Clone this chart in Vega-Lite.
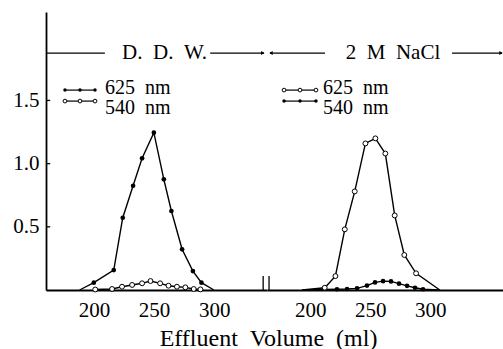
{
  "$schema": "https://vega.github.io/schema/vega-lite/v6.json",
  "autosize": {"type": "pad"},
  "padding": {"left": 12, "top": 12, "right": 0, "bottom": 0},
  "background": "white",
  "spacing": 0,
  "bounds": "flush",
  "config": {
    "view": {"stroke": null},
    "font": "Liberation Serif",
    "axis": {
      "grid": false,
      "domainColor": "black",
      "domainWidth": 1.8,
      "tickColor": "black",
      "labelColor": "black",
      "titleColor": "black",
      "labelFont": "Liberation Serif",
      "titleFont": "Liberation Serif",
      "labelFontSize": 21,
      "titleFontSize": 24,
      "titleFontWeight": "normal"
    },
    "text": {"font": "Liberation Serif", "fontSize": 21, "color": "black"}
  },
  "datasets": {
    "one": [{}],
    "curves": [
      {"cond": "DDW", "wl": "625 nm", "vol": 188, "abs": 0},
      {"cond": "DDW", "wl": "625 nm", "vol": 199.8, "abs": 0.058},
      {"cond": "DDW", "wl": "625 nm", "vol": 216.4, "abs": 0.158},
      {"cond": "DDW", "wl": "625 nm", "vol": 223.9, "abs": 0.572},
      {"cond": "DDW", "wl": "625 nm", "vol": 232.5, "abs": 0.825},
      {"cond": "DDW", "wl": "625 nm", "vol": 240, "abs": 1.042},
      {"cond": "DDW", "wl": "625 nm", "vol": 249.8, "abs": 1.245},
      {"cond": "DDW", "wl": "625 nm", "vol": 258.1, "abs": 0.876},
      {"cond": "DDW", "wl": "625 nm", "vol": 264.4, "abs": 0.625},
      {"cond": "DDW", "wl": "625 nm", "vol": 273.3, "abs": 0.322},
      {"cond": "DDW", "wl": "625 nm", "vol": 282.3, "abs": 0.15},
      {"cond": "DDW", "wl": "625 nm", "vol": 289.4, "abs": 0.058},
      {"cond": "DDW", "wl": "625 nm", "vol": 299.8, "abs": 0},
      {"cond": "DDW", "wl": "540 nm", "vol": 201, "abs": 0.004},
      {"cond": "DDW", "wl": "540 nm", "vol": 215, "abs": 0.008},
      {"cond": "DDW", "wl": "540 nm", "vol": 223.3, "abs": 0.026},
      {"cond": "DDW", "wl": "540 nm", "vol": 231.7, "abs": 0.04},
      {"cond": "DDW", "wl": "540 nm", "vol": 240, "abs": 0.053},
      {"cond": "DDW", "wl": "540 nm", "vol": 247, "abs": 0.071},
      {"cond": "DDW", "wl": "540 nm", "vol": 255, "abs": 0.053},
      {"cond": "DDW", "wl": "540 nm", "vol": 262, "abs": 0.034},
      {"cond": "DDW", "wl": "540 nm", "vol": 269, "abs": 0.026},
      {"cond": "DDW", "wl": "540 nm", "vol": 276, "abs": 0.021},
      {"cond": "DDW", "wl": "540 nm", "vol": 283, "abs": 0.008},
      {"cond": "DDW", "wl": "540 nm", "vol": 288.6, "abs": 0.005},
      {"cond": "NaCl", "wl": "625 nm", "vol": 193.2, "abs": 0},
      {"cond": "NaCl", "wl": "625 nm", "vol": 212.1, "abs": 0.018},
      {"cond": "NaCl", "wl": "625 nm", "vol": 221, "abs": 0.11},
      {"cond": "NaCl", "wl": "625 nm", "vol": 228.8, "abs": 0.48},
      {"cond": "NaCl", "wl": "625 nm", "vol": 237.1, "abs": 0.78},
      {"cond": "NaCl", "wl": "625 nm", "vol": 246, "abs": 1.16},
      {"cond": "NaCl", "wl": "625 nm", "vol": 254.3, "abs": 1.2},
      {"cond": "NaCl", "wl": "625 nm", "vol": 262.6, "abs": 1.08},
      {"cond": "NaCl", "wl": "625 nm", "vol": 270.4, "abs": 0.59},
      {"cond": "NaCl", "wl": "625 nm", "vol": 278.4, "abs": 0.277},
      {"cond": "NaCl", "wl": "625 nm", "vol": 288.2, "abs": 0.132},
      {"cond": "NaCl", "wl": "625 nm", "vol": 308, "abs": 0},
      {"cond": "NaCl", "wl": "540 nm", "vol": 193.2, "abs": 0},
      {"cond": "NaCl", "wl": "540 nm", "vol": 222.3, "abs": 0.006},
      {"cond": "NaCl", "wl": "540 nm", "vol": 230.7, "abs": 0.008},
      {"cond": "NaCl", "wl": "540 nm", "vol": 239, "abs": 0.013},
      {"cond": "NaCl", "wl": "540 nm", "vol": 247.3, "abs": 0.035},
      {"cond": "NaCl", "wl": "540 nm", "vol": 254, "abs": 0.06},
      {"cond": "NaCl", "wl": "540 nm", "vol": 260.7, "abs": 0.07},
      {"cond": "NaCl", "wl": "540 nm", "vol": 267.3, "abs": 0.068},
      {"cond": "NaCl", "wl": "540 nm", "vol": 274, "abs": 0.05},
      {"cond": "NaCl", "wl": "540 nm", "vol": 280.7, "abs": 0.033},
      {"cond": "NaCl", "wl": "540 nm", "vol": 287.3, "abs": 0.018},
      {"cond": "NaCl", "wl": "540 nm", "vol": 294, "abs": 0.006},
      {"cond": "NaCl", "wl": "540 nm", "vol": 307, "abs": 0}
    ]
  },
  "hconcat": [
    {
      "width": 221,
      "height": 278,
      "layer": [
        {
          "data": {"name": "curves"},
          "transform": [{"filter": "datum.cond === 'DDW'"}],
          "mark": {"type": "line", "color": "black", "strokeWidth": 1.4},
          "encoding": {
            "x": {"field": "vol", "type": "quantitative",
                  "scale": {"domain": [160, 344], "nice": false, "zero": false},
                  "axis": {"values": [200, 250, 300], "ticks": false, "labelPadding": 9,
                           "title": "Effluent\u00a0\u00a0Volume\u00a0\u00a0(ml)", "titleX": 222, "titlePadding": 6, "labelFlush": false}},
            "y": {"field": "abs", "type": "quantitative",
                  "scale": {"domain": [0, 2.2], "nice": false},
                  "axis": {"values": [0.5, 1.0, 1.5], "format": ".1f", "title": null,
                           "ticks": false, "labelPadding": 7}},
            "detail": {"field": "wl"}
          }
        },
        {
          "data": {"values": [{"t": 0.5}, {"t": 1.0}, {"t": 1.5}]},
          "mark": {"type": "rule", "color": "black", "strokeWidth": 1.3},
          "encoding": {"x": {"datum": 160}, "x2": {"datum": 163.5}, "y": {"field": "t", "type": "quantitative"}}
        },
        {
          "data": {"name": "curves"},
          "transform": [{"filter": "datum.cond === 'DDW' && datum.wl === '625 nm' && datum.abs > 0.003"}],
          "mark": {"type": "point", "filled": true, "color": "black", "size": 22, "opacity": 1},
          "encoding": {"x": {"field": "vol", "type": "quantitative"}, "y": {"field": "abs", "type": "quantitative"}}
        },
        {
          "data": {"name": "curves"},
          "transform": [{"filter": "datum.cond === 'DDW' && datum.wl === '540 nm' && datum.abs > 0.003"}],
          "mark": {"type": "point", "filled": true, "fill": "white", "stroke": "black", "strokeWidth": 1, "size": 24, "opacity": 1},
          "encoding": {"x": {"field": "vol", "type": "quantitative"}, "y": {"field": "abs", "type": "quantitative"}}
        },
        {"data": {"name": "one"}, "mark": {"type": "rule", "color": "black", "strokeWidth": 1.2},
         "encoding": {"x": {"datum": 160}, "x2": {"datum": 209}, "y": {"datum": 1.875}}},
        {"data": {"name": "one"}, "mark": {"type": "rule", "color": "black", "strokeWidth": 1.2},
         "encoding": {"x": {"datum": 296.7}, "x2": {"datum": 341.5}, "y": {"datum": 1.875}}},
        {"data": {"name": "one"}, "mark": {"type": "point", "shape": "triangle-right", "filled": true, "color": "black", "size": 16, "opacity": 1},
         "encoding": {"x": {"datum": 340.5}, "y": {"datum": 1.875}}},
        {"data": {"name": "one"}, "mark": {"type": "text", "text": "D.\u00a0\u00a0D.\u00a0\u00a0W.", "align": "center", "baseline": "middle"},
         "encoding": {"x": {"datum": 258.7}, "y": {"datum": 1.875}}},
        {"data": {"name": "one"}, "mark": {"type": "rule", "color": "black", "strokeWidth": 1.2},
         "encoding": {"x": {"datum": 175.8}, "x2": {"datum": 200.8}, "y": {"datum": 1.582}}},
        {"data": {"name": "one"}, "mark": {"type": "rule", "color": "black", "strokeWidth": 1.2},
         "encoding": {"x": {"datum": 175.8}, "x2": {"datum": 200.8}, "y": {"datum": 1.495}}},
        {"data": {"values": [{"lx": 175.8}, {"lx": 188.3}, {"lx": 200.8}]},
         "mark": {"type": "point", "filled": true, "color": "black", "size": 12, "opacity": 1},
         "encoding": {"x": {"field": "lx", "type": "quantitative"}, "y": {"datum": 1.582}}},
        {"data": {"values": [{"lx": 175.8}, {"lx": 188.3}, {"lx": 200.8}]},
         "mark": {"type": "point", "filled": true, "fill": "white", "stroke": "black", "strokeWidth": 1, "size": 14, "opacity": 1},
         "encoding": {"x": {"field": "lx", "type": "quantitative"}, "y": {"datum": 1.495}}},
        {"data": {"name": "one"}, "mark": {"type": "text", "text": "625\u00a0\u00a0nm", "align": "left", "baseline": "middle", "fontSize": 20},
         "encoding": {"x": {"datum": 209.2}, "y": {"datum": 1.6}}},
        {"data": {"name": "one"}, "mark": {"type": "text", "text": "540\u00a0\u00a0nm", "align": "left", "baseline": "middle", "fontSize": 20},
         "encoding": {"x": {"datum": 209.2}, "y": {"datum": 1.44}}},
        {"data": {"name": "one"}, "mark": {"type": "rule", "color": "black", "strokeWidth": 1.3},
         "encoding": {"x": {"datum": 340.8}, "y": {"datum": 0}, "y2": {"datum": 0.11}}}
      ]
    },
    {
      "width": 238,
      "height": 278,
      "layer": [
        {
          "data": {"name": "curves"},
          "transform": [{"filter": "datum.cond === 'NaCl'"}],
          "mark": {"type": "line", "color": "black", "strokeWidth": 1.4},
          "encoding": {
            "x": {"field": "vol", "type": "quantitative",
                  "scale": {"domain": [164, 362.3], "nice": false, "zero": false},
                  "axis": {"values": [200, 250, 300], "ticks": false, "labelPadding": 9, "title": null, "labelFlush": false}},
            "y": {"field": "abs", "type": "quantitative",
                  "scale": {"domain": [0, 2.2], "nice": false},
                  "axis": null},
            "detail": {"field": "wl"}
          }
        },
        {
          "data": {"name": "curves"},
          "transform": [{"filter": "datum.cond === 'NaCl' && datum.wl === '540 nm' && datum.abs > 0.003"}],
          "mark": {"type": "point", "filled": true, "color": "black", "size": 22, "opacity": 1},
          "encoding": {"x": {"field": "vol", "type": "quantitative"}, "y": {"field": "abs", "type": "quantitative"}}
        },
        {
          "data": {"name": "curves"},
          "transform": [{"filter": "datum.cond === 'NaCl' && datum.wl === '625 nm' && datum.abs > 0.003"}],
          "mark": {"type": "point", "filled": true, "fill": "white", "stroke": "black", "strokeWidth": 1, "size": 24, "opacity": 1},
          "encoding": {"x": {"field": "vol", "type": "quantitative"}, "y": {"field": "abs", "type": "quantitative"}}
        },
        {"data": {"name": "one"}, "mark": {"type": "rule", "color": "black", "strokeWidth": 1.2},
         "encoding": {"x": {"datum": 166.5}, "x2": {"datum": 212.3}, "y": {"datum": 1.875}}},
        {"data": {"name": "one"}, "mark": {"type": "point", "shape": "triangle-left", "filled": true, "color": "black", "size": 16, "opacity": 1},
         "encoding": {"x": {"datum": 167.3}, "y": {"datum": 1.875}}},
        {"data": {"name": "one"}, "mark": {"type": "text", "text": "2\u00a0\u00a0M\u00a0\u00a0NaCl", "align": "center", "baseline": "middle"},
         "encoding": {"x": {"datum": 269}, "y": {"datum": 1.875}}},
        {"data": {"name": "one"}, "mark": {"type": "rule", "color": "black", "strokeWidth": 1.2},
         "encoding": {"x": {"datum": 318.2}, "x2": {"datum": 359.8}, "y": {"datum": 1.875}}},
        {"data": {"name": "one"}, "mark": {"type": "point", "shape": "triangle-right", "filled": true, "color": "black", "size": 16, "opacity": 1},
         "encoding": {"x": {"datum": 359}, "y": {"datum": 1.875}}},
        {"data": {"name": "one"}, "mark": {"type": "rule", "color": "black", "strokeWidth": 1.2},
         "encoding": {"x": {"datum": 178.2}, "x2": {"datum": 204.8}, "y": {"datum": 1.582}}},
        {"data": {"name": "one"}, "mark": {"type": "rule", "color": "black", "strokeWidth": 1.2},
         "encoding": {"x": {"datum": 178.2}, "x2": {"datum": 204.8}, "y": {"datum": 1.495}}},
        {"data": {"values": [{"lx": 178.2}, {"lx": 191.5}, {"lx": 204.8}]},
         "mark": {"type": "point", "filled": true, "fill": "white", "stroke": "black", "strokeWidth": 1, "size": 14, "opacity": 1},
         "encoding": {"x": {"field": "lx", "type": "quantitative"}, "y": {"datum": 1.582}}},
        {"data": {"values": [{"lx": 178.2}, {"lx": 191.5}, {"lx": 204.8}]},
         "mark": {"type": "point", "filled": true, "color": "black", "size": 12, "opacity": 1},
         "encoding": {"x": {"field": "lx", "type": "quantitative"}, "y": {"datum": 1.495}}},
        {"data": {"name": "one"}, "mark": {"type": "text", "text": "625\u00a0\u00a0nm", "align": "left", "baseline": "middle", "fontSize": 20},
         "encoding": {"x": {"datum": 210.7}, "y": {"datum": 1.6}}},
        {"data": {"name": "one"}, "mark": {"type": "text", "text": "540\u00a0\u00a0nm", "align": "left", "baseline": "middle", "fontSize": 20},
         "encoding": {"x": {"datum": 210.7}, "y": {"datum": 1.44}}},
        {"data": {"name": "one"}, "mark": {"type": "rule", "color": "black", "strokeWidth": 1.3},
         "encoding": {"x": {"datum": 165.7}, "y": {"datum": 0}, "y2": {"datum": 0.11}}}
      ]
    }
  ]
}
